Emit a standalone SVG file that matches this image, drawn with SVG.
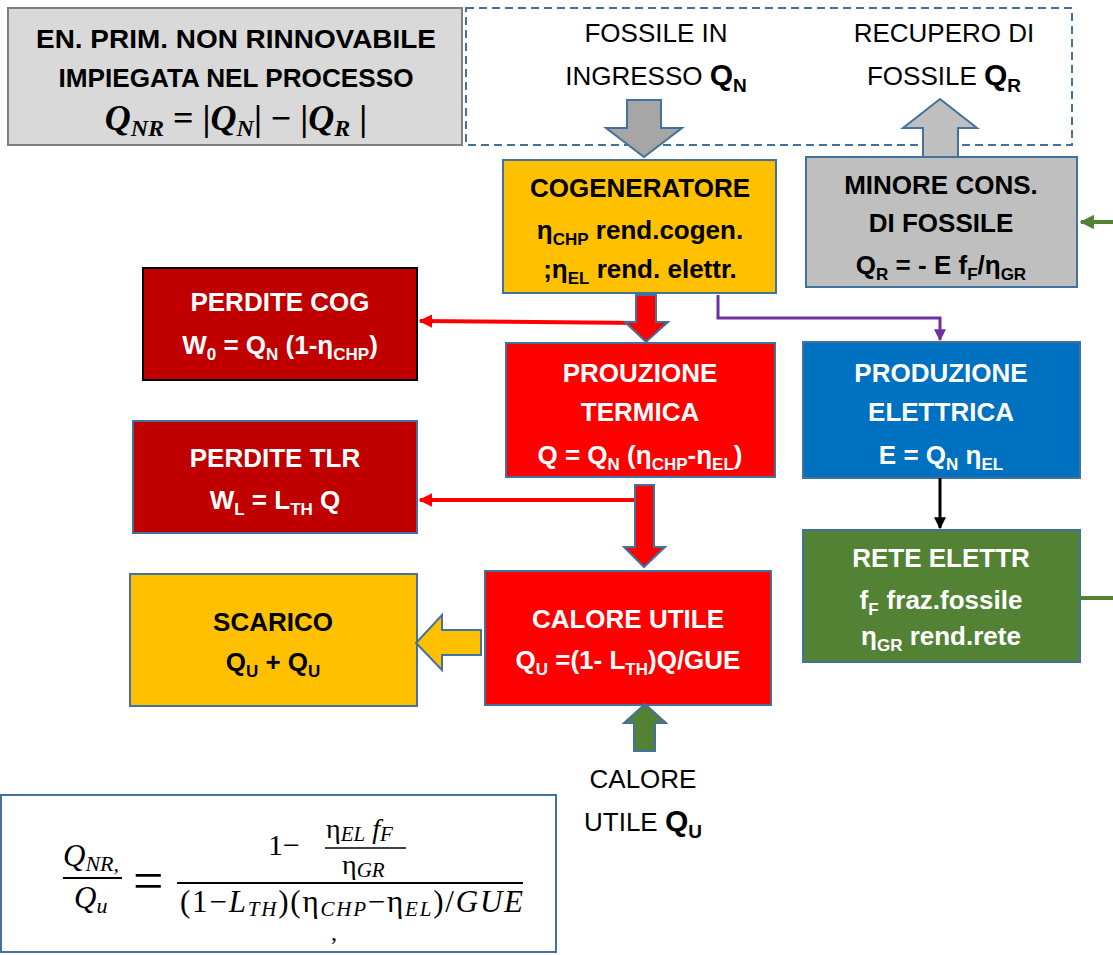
<svg xmlns="http://www.w3.org/2000/svg" width="1113" height="955" viewBox="0 0 1113 955">
  <style>
    .t { font-family: "Liberation Sans", Arial, sans-serif; font-size: 26px; text-anchor: middle; }
    .b { font-weight: bold; }
    .w { fill: #ffffff; }
    .k { fill: #000000; }
    .sub { font-size: 17px; }
    .box { stroke: #41719c; stroke-width: 2; }
    .m { font-family: "Liberation Serif", "Times New Roman", serif; font-style: italic; }
    .mu { font-family: "Liberation Serif", "Times New Roman", serif; font-style: normal; }
    .blk { stroke: #41719c; stroke-width: 2; stroke-linejoin: miter; }
  </style>
  <defs>
    <marker id="ahRed" viewBox="0 0 10 10" refX="9" refY="5" markerWidth="3.4" markerHeight="3.4" orient="auto" markerUnits="strokeWidth">
      <path d="M0,0 L10,5 L0,10 z" fill="#ff0000"/>
    </marker>
    <marker id="ahPurple" viewBox="0 0 10 10" refX="9" refY="5" markerWidth="4" markerHeight="4" orient="auto" markerUnits="strokeWidth">
      <path d="M0,0 L10,5 L0,10 z" fill="#7030a0"/>
    </marker>
    <marker id="ahBlack" viewBox="0 0 10 10" refX="9" refY="5" markerWidth="4" markerHeight="4" orient="auto" markerUnits="strokeWidth">
      <path d="M0,0 L10,5 L0,10 z" fill="#000000"/>
    </marker>
    <marker id="ahGreen" viewBox="0 0 10 10" refX="9" refY="5" markerWidth="3.6" markerHeight="3.6" orient="auto" markerUnits="strokeWidth">
      <path d="M0,0 L10,5 L0,10 z" fill="#548235"/>
    </marker>
  </defs>

  <rect width="1113" height="955" fill="#ffffff"/>

  <!-- summary box: non-renewable primary energy -->
  <g id="node-nonrinnovabile">
    <rect x="8" y="8" width="454" height="137" fill="#d9d9d9" stroke="#7f7f7f" stroke-width="2"/>
    <text class="t b k" x="236" y="48" font-size="28" textLength="400" lengthAdjust="spacingAndGlyphs">EN. PRIM. NON RINNOVABILE</text>
    <text class="t b k" x="236" y="87" font-size="28" textLength="355" lengthAdjust="spacingAndGlyphs">IMPIEGATA NEL PROCESSO</text>
    <text class="m b k" x="236" y="130" font-size="36" text-anchor="middle" font-weight="bold">Q<tspan font-size="24" dy="6">NR</tspan><tspan dy="-6" class="mu">  =  |</tspan>Q<tspan font-size="24" dy="6">N</tspan><tspan dy="-6" class="mu">| −  |</tspan>Q<tspan font-size="24" dy="6">R</tspan><tspan dy="-6" class="mu"> |</tspan></text>
  </g>

  <!-- dashed frame around the fossile inputs -->
  <g id="node-fossile-frame">
    <rect x="466" y="8" width="606" height="137" fill="none" stroke="#41719c" stroke-width="2" stroke-dasharray="8 5"/>
    <text class="t k" x="656" y="42">FOSSILE IN</text>
    <text class="t k" x="656" y="85">INGRESSO <tspan class="b" font-size="30">Q</tspan><tspan class="b" font-size="19" dy="7">N</tspan></text>
    <text class="t k" x="944" y="42">RECUPERO DI</text>
    <text class="t k" x="944" y="85">FOSSILE <tspan class="b" font-size="30">Q</tspan><tspan class="b" font-size="19" dy="7">R</tspan></text>
  </g>

  <g id="node-cogeneratore">
    <rect class="box" x="503" y="160" width="273" height="133" fill="#ffc000"/>
    <text class="t b k" x="640" y="197">COGENERATORE</text>
    <text class="t b k" x="640" y="239">η<tspan class="sub" dy="6">CHP</tspan><tspan dy="-6"> rend.cogen.</tspan></text>
    <text class="t b k" x="640" y="278">;η<tspan class="sub" dy="6">EL</tspan><tspan dy="-6"> rend. elettr.</tspan></text>
  </g>

  <g id="node-minore-consumo">
    <rect class="box" x="806" y="157" width="271" height="130" fill="#bfbfbf"/>
    <text class="t b k" x="941" y="194">MINORE CONS.</text>
    <text class="t b k" x="941" y="232">DI FOSSILE</text>
    <text class="t b k" x="941" y="274">Q<tspan class="sub" dy="6">R</tspan><tspan dy="-6"> = - E f</tspan><tspan class="sub" dy="6">F</tspan><tspan dy="-6">/η</tspan><tspan class="sub" dy="6">GR</tspan></text>
  </g>

  <g id="node-perdite-cog">
    <rect x="143" y="268" width="274" height="112" fill="#c00000" stroke="#000000" stroke-width="2"/>
    <text class="t b w" x="280" y="311">PERDITE COG</text>
    <text class="t b w" x="280" y="354">W<tspan class="sub" dy="6">0</tspan><tspan dy="-6"> = Q</tspan><tspan class="sub" dy="6">N</tspan><tspan dy="-6"> (1-η</tspan><tspan class="sub" dy="6">CHP</tspan><tspan dy="-6">)</tspan></text>
  </g>

  <g id="node-produzione-termica">
    <rect class="box" x="506" y="343" width="269" height="134" fill="#ff0000"/>
    <text class="t b w" x="640" y="382">PROUZIONE</text>
    <text class="t b w" x="640" y="421">TERMICA</text>
    <text class="t b w" x="640" y="464">Q = Q<tspan class="sub" dy="6">N</tspan><tspan dy="-6"> (η</tspan><tspan class="sub" dy="6">CHP</tspan><tspan dy="-6">-η</tspan><tspan class="sub" dy="6">EL</tspan><tspan dy="-6">)</tspan></text>
  </g>

  <g id="node-produzione-elettrica">
    <rect class="box" x="803" y="342" width="277" height="136" fill="#0070c0"/>
    <text class="t b w" x="941" y="382">PRODUZIONE</text>
    <text class="t b w" x="941" y="421">ELETTRICA</text>
    <text class="t b w" x="941" y="464">E = Q<tspan class="sub" dy="6">N</tspan><tspan dy="-6"> η</tspan><tspan class="sub" dy="6">EL</tspan></text>
  </g>

  <g id="node-perdite-tlr">
    <rect class="box" x="133" y="421" width="284" height="112" fill="#c00000"/>
    <text class="t b w" x="275" y="467">PERDITE TLR</text>
    <text class="t b w" x="275" y="509">W<tspan class="sub" dy="6">L</tspan><tspan dy="-6"> = L</tspan><tspan class="sub" dy="6">TH</tspan><tspan dy="-6"> Q</tspan></text>
  </g>

  <g id="node-rete-elettrica">
    <rect class="box" x="803" y="530" width="277" height="132" fill="#548235"/>
    <text class="t b w" x="941" y="567">RETE ELETTR</text>
    <text class="t b w" x="941" y="609">f<tspan class="sub" dy="6">F</tspan><tspan dy="-6" dx="8">fraz.fossile</tspan></text>
    <text class="t b w" x="941" y="645">η<tspan class="sub" dy="6">GR</tspan><tspan dy="-6"> rend.rete</tspan></text>
  </g>

  <g id="node-scarico">
    <rect class="box" x="130" y="574" width="287" height="132" fill="#ffc000"/>
    <text class="t b k" x="273" y="631">SCARICO</text>
    <text class="t b k" x="273" y="671">Q<tspan class="sub" dy="6">U</tspan><tspan dy="-6"> + Q</tspan><tspan class="sub" dy="6">U</tspan></text>
  </g>

  <g id="node-calore-utile">
    <rect class="box" x="485" y="571" width="286" height="134" fill="#ff0000"/>
    <text class="t b w" x="628" y="628">CALORE UTILE</text>
    <text class="t b w" x="628" y="669">Q<tspan class="sub" dy="6">U</tspan><tspan dy="-6"> =(1- L</tspan><tspan class="sub" dy="6">TH</tspan><tspan dy="-6">)Q/GUE</tspan></text>
  </g>

  <g id="node-calore-ingresso">
    <text class="t k" x="643" y="788">CALORE</text>
    <text class="t k" x="643" y="831">UTILE <tspan class="b" font-size="30">Q</tspan><tspan class="b" font-size="19" dy="7">U</tspan></text>
  </g>

  <!-- ratio of non-renewable primary energy to useful heat -->
  <g id="node-formula">
    <rect x="1" y="795" width="555" height="157" fill="#ffffff" stroke="#41719c" stroke-width="2"/>
    <text class="m k" x="63" y="866" font-size="31">Q<tspan font-size="22" dy="5">NR,</tspan></text>
    <line x1="63" y1="878" x2="122" y2="878" stroke="#000" stroke-width="2"/>
    <text class="m k" x="74" y="908" font-size="31">Q<tspan font-size="22" dy="5">u</tspan></text>
    <text class="mu k" x="133" y="899" font-size="54">=</text>
    <line x1="177" y1="883" x2="523" y2="883" stroke="#000" stroke-width="2"/>
    <text class="mu k" x="268" y="855" font-size="30">1−</text>
    <line x1="325" y1="848" x2="406" y2="848" stroke="#000" stroke-width="1.5"/>
    <text class="mu k" x="326" y="838" font-size="28">η<tspan class="m" font-size="21" dy="3">EL</tspan><tspan class="m" font-size="28" dy="-3"> f</tspan><tspan class="m" font-size="21" dy="3">F</tspan></text>
    <text class="mu k" x="342" y="874" font-size="28">η<tspan class="m" font-size="21" dy="3">GR</tspan></text>
    <text class="mu k" x="180" y="912" font-size="31" textLength="343" lengthAdjust="spacing">(1−<tspan class="m">L</tspan><tspan class="m" font-size="21" dy="4">TH</tspan><tspan dy="-4">)(η</tspan><tspan class="m" font-size="21" dy="4">CHP</tspan><tspan dy="-4">−η</tspan><tspan class="m" font-size="21" dy="4">EL</tspan><tspan dy="-4">)/</tspan><tspan class="m">GUE</tspan></text>
    <text class="mu k" x="331" y="940" font-size="24">,</text>
  </g>

  <!-- connectors -->
  <g id="connectors">
    <!-- fossile in / recovered fossile block arrows -->
    <polygon class="blk" fill="#a6a6a6" points="627,100 661,100 661,128 682,128 644,157 606,128 627,128"/>
    <polygon class="blk" fill="#bfbfbf" points="923,157 958,157 958,128 977,128 940,99 903,128 923,128"/>

    <!-- loss lines to the red boxes -->
    <line x1="640" y1="323" x2="420" y2="321" stroke="#ff0000" stroke-width="4" marker-end="url(#ahRed)"/>
    <line x1="640" y1="500" x2="420" y2="500" stroke="#ff0000" stroke-width="4" marker-end="url(#ahRed)"/>

    <!-- heat flow block arrows -->
    <polygon class="blk" fill="#ff0000" points="636,295 656,295 656,322 668,322 646,342 625,322 636,322"/>
    <polygon class="blk" fill="#ff0000" points="635,485 654,485 654,547 665,547 644,567 624,547 635,547"/>

    <!-- electric branch -->
    <polyline points="718,295 718,318 940,318 940,340" fill="none" stroke="#7030a0" stroke-width="3" marker-end="url(#ahPurple)"/>
    <line x1="940" y1="478" x2="940" y2="528" stroke="#000000" stroke-width="3" marker-end="url(#ahBlack)"/>

    <!-- grid links on the right edge -->
    <line x1="1080" y1="598" x2="1113" y2="598" stroke="#548235" stroke-width="4"/>
    <line x1="1113" y1="222" x2="1081" y2="222" stroke="#548235" stroke-width="4" marker-end="url(#ahGreen)"/>

    <!-- useful heat out to discharge, useful heat in -->
    <polygon class="blk" fill="#ffc000" points="481,630 481,655 442,655 442,670 416,643 442,615 442,630"/>
    <polygon class="blk" fill="#548235" points="634,751 655,751 655,723 666,723 645,704 624,723 634,723"/>
  </g>
</svg>
